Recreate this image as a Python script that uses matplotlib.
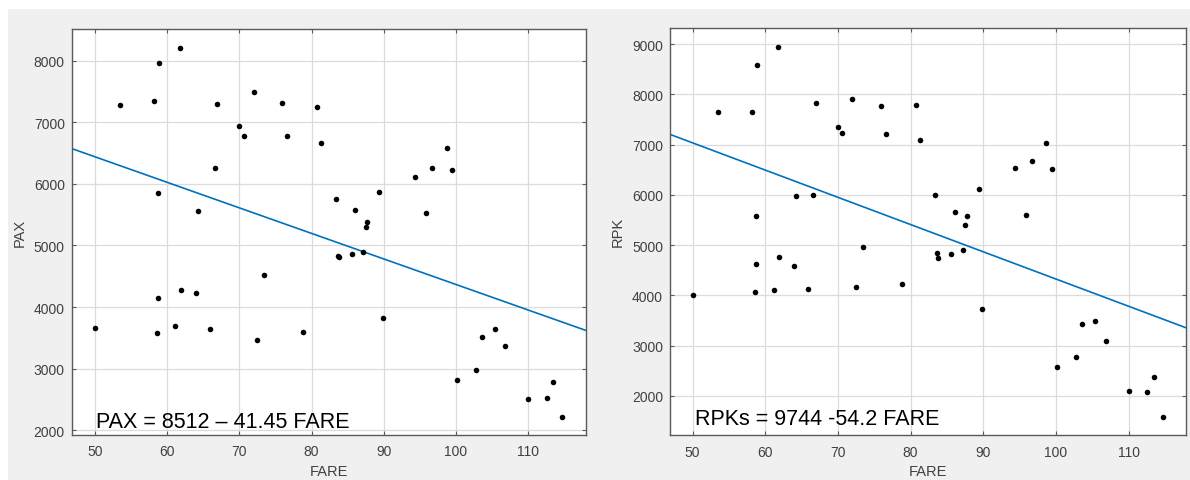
import matplotlib
matplotlib.use("Agg")
import matplotlib.pyplot as plt
from matplotlib.patches import Rectangle

# ---- data ----
FARE = [50.0, 53.5, 58.15, 58.55, 58.8, 58.75, 58.85, 61.15, 61.75, 61.95,
        64.0, 64.25, 65.9, 66.6, 66.95, 70.0, 70.6, 72.0, 72.45, 73.45,
        75.95, 76.65, 78.8, 80.8, 81.3, 83.4, 83.7, 83.8, 85.55, 86.05,
        87.15, 87.5, 87.75, 89.4, 89.85, 94.35, 95.9, 96.7, 98.7, 99.5,
        100.2, 102.75, 103.6, 105.4, 106.85, 110.0, 112.6, 113.5, 114.7]
PAX = [3656, 7286, 7341, 3575, 4153, 5857, 7968, 3698, 8211, 4278,
       4229, 5560, 3649, 6253, 7297, 6945, 6782, 7497, 3466, 4516,
       7318, 6782, 3591, 7253, 6659, 5750, 4830, 4815, 4862, 5576,
       4890, 5295, 5381, 5869, 3823, 6112, 5528, 6253, 6588, 6226,
       2817, 2979, 3510, 3645, 3364, 2508, 2529, 2779, 2221]
RPK = [4010, 7654, 7654, 4056, 4626, 5580, 8589, 4109, 8946, 4765,
       4580, 5984, 4135, 6004, 7833, 7356, 7231, 7913, 4163, 4967,
       7773, 7217, 4229, 7781, 7098, 6004, 4845, 4746, 4831, 5666,
       4911, 5408, 5575, 6111, 3732, 6541, 5600, 6668, 7038, 6521,
       2573, 2777, 3420, 3487, 3082, 2095, 2075, 2374, 1571]

PAX_FIT = (8512, -41.45)
RPK_FIT = (9744, -54.2)
PAX_EQ = "PAX = 8512 \u2013 41.45 FARE"
RPK_EQ = "RPKs = 9744 -54.2 FARE"
X_TICKS = [50, 60, 70, 80, 90, 100, 110]
PAX_YTICKS = [2000, 3000, 4000, 5000, 6000, 7000, 8000]
RPK_YTICKS = [2000, 3000, 4000, 5000, 6000, 7000, 8000, 9000]

plt.rcParams['font.family'] = ['Liberation Sans', 'DejaVu Sans']

W, H = 1190, 481
fig = plt.figure(figsize=(W / 100, H / 100), dpi=100, facecolor='white')
fig.patches.append(Rectangle((8 / W, 0), 1 - 8 / W, 1 - 10 / H, transform=fig.transFigure,
                             facecolor='#f0f0f0', edgecolor='none', zorder=-10))

axL = fig.add_axes([71.7 / W, 1 - 435.7 / H, (586 - 71.7) / W, (435.7 - 29.5) / H])
axR = fig.add_axes([670 / W, 1 - 436 / H, (1186 - 670) / W, (436 - 28.7) / H])

specs = [
    (axL, PAX, PAX_FIT, PAX_EQ, "PAX", PAX_YTICKS, (46.8, 118.0), (1930, 8520), (0.047, 0.019)),
    (axR, RPK, RPK_FIT, RPK_EQ, "RPK", RPK_YTICKS, (46.9, 117.9), (1220, 9325), (0.048, 0.027)),
]

spine_c = '#5a5a5a'
text_c = '#404040'
for ax, yv, fit, eq, ylab, yt, xl, yl, tpos in specs:
    ax.set_facecolor('white')
    ax.set_xlim(*xl)
    ax.set_ylim(*yl)
    ax.set_xticks(X_TICKS)
    ax.set_yticks(yt)
    ax.grid(True, color='#dcdcdc', linewidth=0.9)
    ax.set_axisbelow(True)
    for s in ax.spines.values():
        s.set_color(spine_c)
        s.set_linewidth(1.0)
    ax.tick_params(direction='in', length=3, width=0.8, color=spine_c,
                   top=True, right=True, labelsize=10, labelcolor=text_c)
    ax.tick_params(axis='y', pad=5)
    ax.tick_params(axis='x', pad=7)
    ax.axline((0, fit[0]), slope=fit[1], color='#0072BD', linewidth=1.2, zorder=2)
    ax.scatter(FARE, yv, s=16, color='black', zorder=3, linewidths=0)
    ax.set_xlabel("FARE", fontsize=10.5, color=text_c, labelpad=4)
    ax.set_ylabel(ylab, fontsize=10.5, color=text_c, labelpad=5)
    ax.text(tpos[0], tpos[1], eq, transform=ax.transAxes, fontsize=15.5,
            color='black', ha='left', va='baseline')

fig.savefig("out.png", dpi=100, facecolor=fig.get_facecolor())
